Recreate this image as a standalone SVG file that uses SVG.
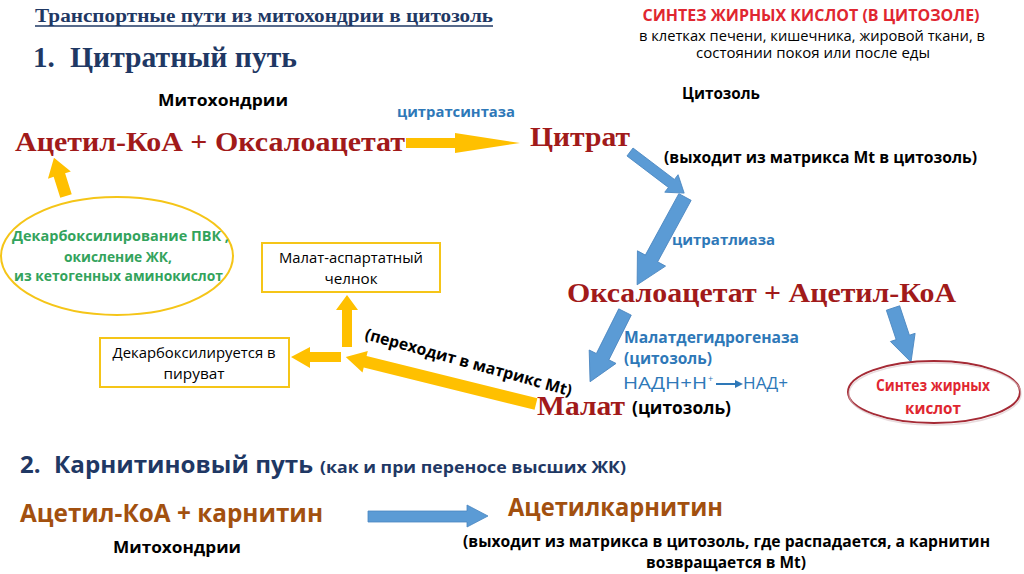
<svg xmlns="http://www.w3.org/2000/svg" width="1024" height="574" viewBox="0 0 1024 574">
<style>
.serif{font-family:"Liberation Serif","Times New Roman",serif;font-weight:bold}
.sans{font-family:"Open Sans","Noto Sans","Liberation Sans",sans-serif}
.b{font-weight:bold}
.chem{fill:#a11a1a;font-size:28px}
.navy{fill:#1f3864}
.blue{fill:#2e78b8}
.green{fill:#33a35c}
.red{fill:#e02630}
.brown{fill:#a2500f}
.yarrow{fill:#ffc000}
.barrow{fill:#5b9bd5;stroke:#4a86c0;stroke-width:0.8}
.ybox{fill:#fff;stroke:#f5c518;stroke-width:2}
</style>
<rect width="1024" height="574" fill="#fff"/>

<g id="header">
<text class="serif navy" x="35" y="22" font-size="18" textLength="458" lengthAdjust="spacingAndGlyphs">Транспортные пути из митохондрии в цитозоль</text>
<line x1="35" y1="26" x2="493" y2="26" stroke="#1f3864" stroke-width="1.5"/>
<text class="serif navy" x="33" y="67" font-size="29" font-family="Liberation Serif, serif" font-weight="bold">1.</text>
<text class="serif navy" x="70" y="67" font-size="29" font-family="Liberation Serif, serif" font-weight="bold" textLength="227" lengthAdjust="spacingAndGlyphs">Цитратный путь</text>
<text class="sans b" x="158" y="106" font-size="16" textLength="130" lengthAdjust="spacingAndGlyphs">Митохондрии</text>
<text class="sans b" x="682" y="99" font-size="16" textLength="78" lengthAdjust="spacingAndGlyphs">Цитозоль</text>
<text class="sans b red" x="811" y="21" font-size="16" text-anchor="middle" textLength="337" lengthAdjust="spacingAndGlyphs">СИНТЕЗ ЖИРНЫХ КИСЛОТ (В ЦИТОЗОЛЕ)</text>
<text class="sans" x="812" y="41" font-size="14" text-anchor="middle" textLength="346" lengthAdjust="spacingAndGlyphs">в клетках печени, кишечника, жировой ткани, в</text>
<text class="sans" x="813" y="58" font-size="14" text-anchor="middle" textLength="234" lengthAdjust="spacingAndGlyphs">состоянии покоя или после еды</text>
</g>

<g id="connectors">
<polygon class="yarrow" points="406,138 455,138 455,133 520,143 455,153 455,148 406,148"/>
<g transform="translate(66,196) rotate(-107.5)"><polygon class="yarrow" points="0,-6 22,-6 22,-12 40,0 22,12 22,6 0,6"/></g>
<g transform="translate(536,404) rotate(193.9)"><polygon class="yarrow" points="0,-6 176,-6 176,-11 196,0 176,11 176,6 0,6"/></g>
<polygon class="yarrow" points="342,347 342,310 336,310 347,295 358,310 352,310 352,347"/>
<polygon class="yarrow" points="341,352 310,352 310,347 291,357 310,368 310,362 341,362"/>
<g transform="translate(630,152) rotate(37.2)"><polygon class="barrow" points="0,-5 52,-5 52,-11 68,0 52,11 52,5 0,5"/></g>
<g transform="translate(685,197) rotate(118.6)"><polygon class="barrow" points="0,-7 70,-7 70,-16 100,0 70,16 70,7 0,7"/></g>
<g transform="translate(625,312) rotate(116.6)"><polygon class="barrow" points="0,-7 50,-7 50,-15 78,0 50,15 50,7 0,7"/></g>
<g transform="translate(893,308) rotate(71.6)"><polygon class="barrow" points="0,-7 31,-7 31,-13 57,0 31,13 31,7 0,7"/></g>
<polygon class="barrow" points="368,511 467,511 467,505 488,516 467,527 467,522 368,522"/>
<line x1="716" y1="384" x2="736" y2="384" stroke="#2e78b8" stroke-width="2"/>
<polygon points="735,380 743,384 735,388" fill="#2e78b8"/>
</g>

<g id="acetyl-oaa">
<text class="serif chem" x="15" y="151" textLength="390" lengthAdjust="spacingAndGlyphs">Ацетил-КоА + Оксалоацетат</text>
</g>
<g id="citratsintaza">
<text class="sans b blue" x="397" y="117" font-size="15" textLength="118" lengthAdjust="spacingAndGlyphs">цитратсинтаза</text>
</g>
<g id="citrat">
<text class="serif chem" x="530" y="146" font-size="29" textLength="100" lengthAdjust="spacingAndGlyphs">Цитрат</text>
<text class="sans b" x="664" y="163" font-size="16" textLength="313" lengthAdjust="spacingAndGlyphs">(выходит из матрикса Mt в цитозоль)</text>
</g>
<g id="citratliaza">
<text class="sans b blue" x="672" y="245" font-size="15" textLength="103" lengthAdjust="spacingAndGlyphs">цитратлиаза</text>
</g>
<g id="oaa-acetyl">
<text class="serif chem" x="567" y="302" textLength="389" lengthAdjust="spacingAndGlyphs">Оксалоацетат + Ацетил-КоА</text>
</g>
<g id="mdh">
<text class="sans b blue" x="624" y="343" font-size="15.5" textLength="175" lengthAdjust="spacingAndGlyphs">Малатдегидрогеназа</text>
<text class="sans b blue" x="624" y="364" font-size="15.5" textLength="88" lengthAdjust="spacingAndGlyphs">(цитозоль)</text>
<text class="sans blue" x="623" y="389" font-size="16" textLength="84" lengthAdjust="spacingAndGlyphs">НАДН+Н</text>
<text class="sans blue" x="708" y="382" font-size="9">+</text>
<text class="sans blue" x="743" y="389" font-size="16" textLength="45" lengthAdjust="spacingAndGlyphs">НАД+</text>
</g>
<g id="malat">
<text class="serif chem" x="537" y="415" textLength="88" lengthAdjust="spacingAndGlyphs">Малат</text>
<text class="sans b" x="632" y="414" font-size="17" textLength="99" lengthAdjust="spacingAndGlyphs">(цитозоль)</text>
</g>
<g id="perekhodit">
<text class="sans b" transform="translate(364,339) rotate(15.5)" font-size="16" textLength="214" lengthAdjust="spacingAndGlyphs">(переходит в матрикс Mt)</text>
</g>
<g id="sintez-zhk">
<ellipse cx="934" cy="392" rx="86" ry="31" fill="#fff" stroke="#a52a35" stroke-width="2"/>
<ellipse cx="935" cy="394" rx="86" ry="31" fill="none" stroke="#d9c3c6" stroke-width="1.5" opacity="0.6"/>
<text class="sans b red" x="933" y="391" font-size="16" text-anchor="middle" textLength="114" lengthAdjust="spacingAndGlyphs">Синтез жирных</text>
<text class="sans b red" x="933" y="414" font-size="16" text-anchor="middle" textLength="56" lengthAdjust="spacingAndGlyphs">кислот</text>
</g>
<g id="istochniki">
<ellipse cx="117" cy="256" rx="116" ry="59" fill="#fff" stroke="#f5c518" stroke-width="2"/>
<text class="sans b green" x="12" y="241" font-size="15" textLength="217" lengthAdjust="spacingAndGlyphs">Декарбоксилирование ПВК ,</text>
<text class="sans b green" x="118" y="262" font-size="15" text-anchor="middle" textLength="108" lengthAdjust="spacingAndGlyphs">окисление ЖК,</text>
<text class="sans b green" x="14" y="281" font-size="15" textLength="209" lengthAdjust="spacingAndGlyphs">из кетогенных аминокислот</text>
</g>
<g id="chelnok">
<rect class="ybox" x="262" y="243" width="178" height="49"/>
<text class="sans" x="351" y="263" font-size="14.5" text-anchor="middle" textLength="144" lengthAdjust="spacingAndGlyphs">Малат-аспартатный</text>
<text class="sans" x="351" y="284" font-size="14.5" text-anchor="middle" textLength="53" lengthAdjust="spacingAndGlyphs">челнок</text>
</g>
<g id="piruvat">
<rect class="ybox" x="100" y="338" width="189" height="49"/>
<text class="sans" x="194" y="358" font-size="14.5" text-anchor="middle" textLength="163" lengthAdjust="spacingAndGlyphs">Декарбоксилируется в</text>
<text class="sans" x="194" y="379" font-size="14.5" text-anchor="middle" textLength="61" lengthAdjust="spacingAndGlyphs">пируват</text>
</g>

<g id="karnitin-title">
<text class="sans b navy" x="20" y="473" font-size="24">2.</text>
<text class="sans b navy" x="54" y="473" font-size="24" textLength="259" lengthAdjust="spacingAndGlyphs">Карнитиновый путь</text>
<text class="sans b navy" x="320" y="473" font-size="16" textLength="306" lengthAdjust="spacingAndGlyphs">(как и при переносе высших ЖК)</text>
</g>
<g id="acetyl-karnitin">
<text class="sans b brown" x="20" y="522" font-size="25" textLength="303" lengthAdjust="spacingAndGlyphs">Ацетил-КоА + карнитин</text>
<text class="sans b" x="113" y="553" font-size="16" textLength="128" lengthAdjust="spacingAndGlyphs">Митохондрии</text>
</g>
<g id="acetylkarnitin">
<text class="sans b brown" x="508" y="516" font-size="25" textLength="215" lengthAdjust="spacingAndGlyphs">Ацетилкарнитин</text>
<text class="sans b" x="463" y="547" font-size="16" textLength="527" lengthAdjust="spacingAndGlyphs">(выходит из матрикса в цитозоль, где распадается, а карнитин</text>
<text class="sans b" x="726" y="568" font-size="16" text-anchor="middle" textLength="160" lengthAdjust="spacingAndGlyphs">возвращается в Mt)</text>
</g>
</svg>
